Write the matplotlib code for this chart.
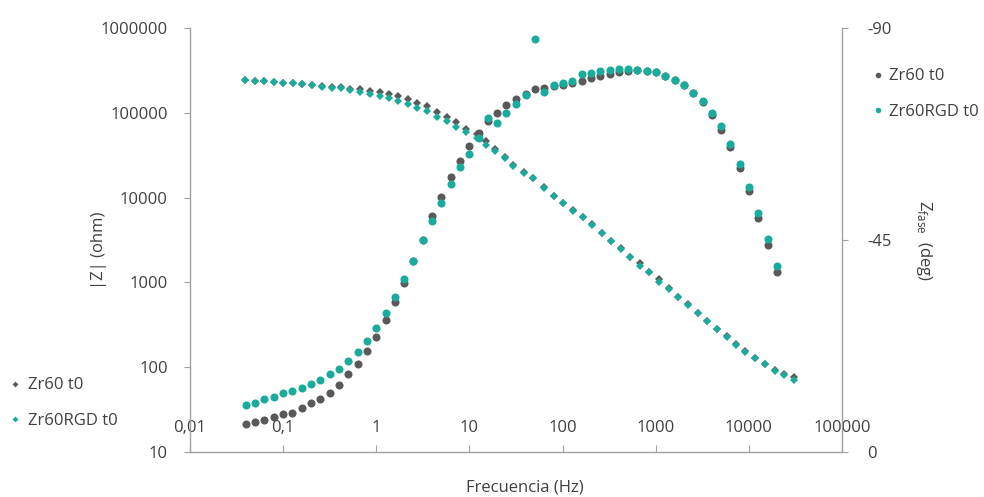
import matplotlib
matplotlib.use("Agg")
import matplotlib.pyplot as plt
from matplotlib.lines import Line2D
from matplotlib.ticker import FixedLocator, FixedFormatter, NullLocator

plt.rcParams['font.family'] = ['Open Sans', 'DejaVu Sans']
plt.rcParams['axes.unicode_minus'] = False
plt.rcParams['mathtext.fontset'] = 'custom'
plt.rcParams['mathtext.rm'] = 'Open Sans'

# Frequencies (Hz) of the impedance modulus points
freq_mod = [0.039, 0.050, 0.063, 0.080, 0.100, 0.128, 0.160, 0.205, 0.262, 0.336,
            0.421, 0.525, 0.673, 0.861, 1.10, 1.38, 1.73, 2.21, 2.76, 3.53,
            4.53, 5.80, 7.24, 9.29, 12.2, 14.9, 19.0, 23.8, 29.7, 38.1,
            47.6, 62.5, 80.0, 100, 128, 164, 205, 262, 328, 420,
            525, 673, 841, 1077, 1380, 1725, 2210, 2830, 3535, 4525,
            5795, 7245, 9060, 11600, 14860, 19050, 23770, 30460]

# |Z| (ohm)
z_zr60 = [244000, 237000, 237000, 233000, 227000, 225000, 217000, 211000, 207000, 203000,
          201000, 191000, 189000, 182000, 177500, 168000, 158000, 144000, 131600, 119300,
          102200, 90400, 77400, 64400, 55500, 46900, 37400, 30300, 24200, 20000,
          17000, 13300, 10500, 8710, 7140, 5960, 4820, 3850, 3100, 2520,
          2010, 1680, 1340, 1090, 851, 667, 556, 432, 351, 280,
          233, 188, 155, 129, 109, 92.7, 83.2, 77.3]
z_zr60rgd = [244000, 237000, 237000, 233000, 227000, 225000, 217000, 211000, 203000, 198000,
             193500, 185800, 174600, 168100, 157800, 148200, 138900, 128000, 114800, 105800,
             89900, 80000, 68000, 59400, 50000, 41700, 35700, 29500, 23600, 19500,
             16800, 13000, 10400, 8630, 7040, 5900, 4750, 3830, 3080, 2480,
             2000, 1560, 1330, 1020, 847, 664, 548, 430, 346, 279,
             230, 185, 153, 128, 108, 91.4, 80.9, 70.6]

# Frequencies (Hz) of the phase points
freq_phase = [0.04, 0.05, 0.063, 0.08, 0.1, 0.126, 0.16, 0.2, 0.25, 0.32,
              0.4, 0.5, 0.63, 0.8, 1.0, 1.26, 1.6, 2.0, 2.5, 3.2,
              4.0, 5.0, 6.3, 8.0, 10, 12.6, 16, 20, 25, 32,
              40, 50, 63, 80, 100, 126, 160, 200, 250, 320,
              400, 500, 630, 800, 1000, 1260, 1600, 2000, 2500, 3200,
              4000, 5000, 6300, 8000, 10000, 12600, 16000, 20000]

# Phase angle (deg)
ph_zr60 = [-5.9, -6.4, -6.8, -7.4, -8.1, -8.3, -9.3, -10.3, -11.2, -12.6,
           -14.2, -16.5, -18.7, -21.5, -24.5, -28.0, -31.9, -35.9, -40.5, -45.0,
           -50.0, -54.2, -58.3, -61.8, -65.0, -67.8, -70.3, -71.9, -73.7, -74.9,
           -76.0, -77.0, -77.3, -77.6, -77.9, -78.4, -78.8, -79.3, -79.8, -80.2,
           -80.6, -80.9, -81.0, -80.8, -80.6, -79.8, -78.9, -77.8, -76.1, -74.2,
           -71.5, -68.4, -64.8, -60.2, -55.3, -49.7, -43.9, -38.2]
ph_zr60rgd = [-10.0, -10.5, -11.2, -11.6, -12.5, -13.0, -13.6, -14.4, -15.3, -16.6,
              -17.7, -19.4, -21.3, -23.5, -26.4, -29.6, -32.9, -36.7, -40.6, -45.0,
              -49.0, -52.9, -56.8, -60.4, -63.3, -66.6, -71.0, -69.8, -71.9, -73.9,
              -75.8, -87.6, -76.5, -77.9, -78.4, -78.8, -80.2, -80.4, -80.9, -81.1,
              -81.3, -81.3, -81.1, -80.9, -80.6, -79.9, -79.0, -77.9, -76.3, -74.4,
              -71.9, -69.1, -65.3, -61.1, -56.3, -50.7, -45.2, -39.5]

series_names = ["Zr60 t0", "Zr60RGD t0"]

x_ticks = [0.01, 0.1, 1, 10, 100, 1000, 10000, 100000]
x_tick_labels = ["0,01", "0,1", "1", "10", "100", "1000", "10000", "100000"]
z_ticks = [10, 100, 1000, 10000, 100000, 1000000]
z_tick_labels = ["10", "100", "1000", "10000", "100000", "1000000"]
ph_ticks = [0, -45, -90]
ph_tick_labels = ["0", "-45", "-90"]

GRAY = "#595959"
TEAL = "#19ac9c"
AXIS = "#a0a0a0"
TEXT = "#404040"
FS = 12

fig = plt.figure(figsize=(9.84, 4.97), dpi=100)
ax = fig.add_axes([190 / 984, 45 / 497, 652 / 984, 424 / 497])
ax2 = ax.twinx()

# Modulus on the left axis (diamonds)
ax.plot(freq_mod, z_zr60, linestyle="none", marker="D", markersize=3.8,
        color=GRAY, markeredgewidth=0)
ax.plot(freq_mod, z_zr60rgd, linestyle="none", marker="D", markersize=3.8,
        color=TEAL, markeredgewidth=0)

# Phase on the right axis (circles)
ax2.plot(freq_phase, ph_zr60, linestyle="none", marker="o", markersize=5.8,
         color=GRAY, markeredgewidth=0)
ax2.plot(freq_phase, ph_zr60rgd, linestyle="none", marker="o", markersize=5.8,
         color=TEAL, markeredgewidth=0)

ax.set_xscale("log")
ax.set_yscale("log")
ax.set_xlim(0.01, 100000)
ax.set_ylim(10, 1000000)
ax2.set_ylim(0, -90)

ax.xaxis.set_major_locator(FixedLocator(x_ticks))
ax.xaxis.set_major_formatter(FixedFormatter(x_tick_labels))
ax.xaxis.set_minor_locator(NullLocator())
ax.yaxis.set_major_locator(FixedLocator(z_ticks))
ax.yaxis.set_major_formatter(FixedFormatter(z_tick_labels))
ax.yaxis.set_minor_locator(NullLocator())
ax2.yaxis.set_major_locator(FixedLocator(ph_ticks))
ax2.yaxis.set_major_formatter(FixedFormatter(ph_tick_labels))
ax2.yaxis.set_minor_locator(NullLocator())

for a in (ax, ax2):
    a.set_facecolor("none")
    a.spines["top"].set_visible(False)
    for sp in a.spines.values():
        sp.set_color(AXIS)
        sp.set_linewidth(1.0)
ax.spines["right"].set_visible(False)
ax2.spines["left"].set_visible(False)
ax2.spines["bottom"].set_visible(False)

ax.tick_params(axis="x", direction="in", length=5, color=AXIS, labelsize=FS,
               labelcolor=TEXT, pad=-23)
ax.tick_params(axis="y", direction="out", length=4, color=AXIS, labelsize=FS,
               labelcolor=TEXT, pad=12)
ax2.tick_params(axis="y", direction="out", length=4, color=AXIS, labelsize=FS,
                labelcolor=TEXT, pad=14)

fig.text(99 / 984, 1 - 250 / 497, "|Z| (ohm)", rotation=90, ha="center",
         va="center", fontsize=FS, color=TEXT)
fig.text(924 / 984, 1 - 240 / 497, r"Z$_{\mathrm{fase}}$  (deg)", rotation=270,
         ha="center", va="center", fontsize=FS, color=TEXT)
fig.text(525 / 984, 1 - 487 / 497, "Frecuencia (Hz)", ha="center", va="center",
         fontsize=FS, color=TEXT)

# Legend for the modulus series (left)
h_mod = [Line2D([], [], linestyle="none", marker="D", markersize=3.0, color=c,
                markeredgewidth=0) for c in (GRAY, TEAL)]
fig.legend(h_mod, series_names, loc="center left",
           bbox_to_anchor=(10 / 984, 1 - 403 / 497), frameon=False,
           fontsize=FS, labelcolor=TEXT, handlelength=0.6, handletextpad=0.45,
           labelspacing=1.15, borderpad=0, borderaxespad=0)

# Legend for the phase series (right)
h_ph = [Line2D([], [], linestyle="none", marker="o", markersize=4.0, color=c,
               markeredgewidth=0) for c in (GRAY, TEAL)]
fig.legend(h_ph, series_names, loc="center left",
           bbox_to_anchor=(873 / 984, 1 - 94 / 497), frameon=False,
           fontsize=FS, labelcolor=TEXT, handlelength=0.6, handletextpad=0.35,
           labelspacing=1.15, borderpad=0, borderaxespad=0)

fig.savefig("out.png", dpi=100)
